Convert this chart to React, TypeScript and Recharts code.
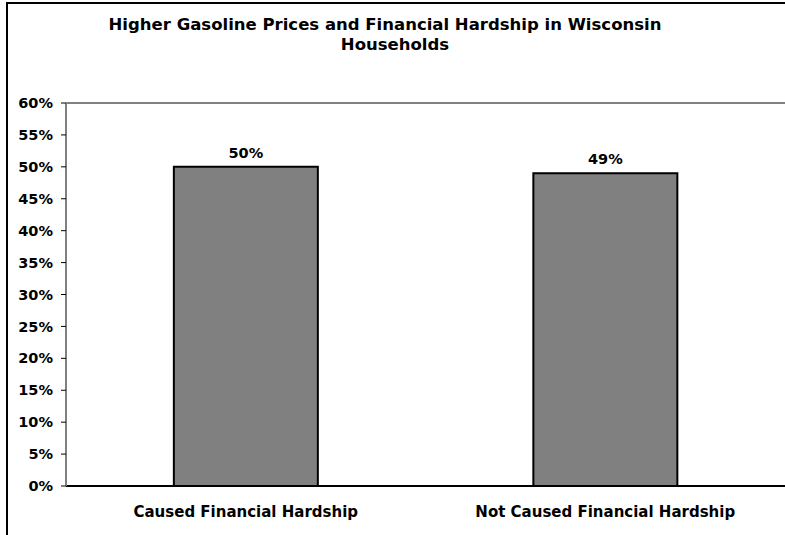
import React from "react";
import { BarChart, Bar, XAxis, YAxis, ReferenceLine, LabelList } from "recharts";

const categories = ["Caused Financial Hardship", "Not Caused Financial Hardship"];
const shares = [0.5, 0.49];
const yTicks = [0, 0.05, 0.1, 0.15, 0.2, 0.25, 0.3, 0.35, 0.4, 0.45, 0.5, 0.55, 0.6];

const data = categories.map((name, i) => ({ name, value: shares[i] }));

const font = "'DejaVu Sans', 'Liberation Sans', Arial, sans-serif";
const pct = (v: number) => `${Math.round(v * 100)}%`;
const tickStyle = { fontSize: 14.5, fontWeight: "bold", fill: "#000", fontFamily: font };
const catStyle = { fontSize: 15, fontWeight: "bold", fill: "#000", fontFamily: font };
const titleStyle = { position: "absolute" as const, left: 0, textAlign: "center" as const, fontSize: 16.5, fontWeight: "bold", lineHeight: "19.5px" };

export default function App() {
  return (
    <div style={{ position: "fixed", left: 0, top: 0, width: 785, height: 535, overflow: "hidden", background: "#fff", fontFamily: font }}>
      <div style={{ ...titleStyle, width: 770, top: 15 }}>
        Higher Gasoline Prices and Financial Hardship in Wisconsin
      </div>
      <div style={{ ...titleStyle, width: 790, top: 34.5 }}>
        Households
      </div>
      <div style={{ position: "absolute", left: 0, top: 0 }}>
        <BarChart width={785} height={535} data={data} margin={{ top: 103, right: 0, left: 0, bottom: 0 }} barCategoryGap="30%">
          <XAxis
            dataKey="name"
            height={49}
            axisLine={{ stroke: "#000", strokeWidth: 2 }}
            tickLine={false}
            tickSize={0}
            tickMargin={20}
            tick={catStyle}
          />
          <YAxis
            width={66}
            domain={[0, 0.6]}
            ticks={yTicks}
            interval={0}
            tickFormatter={pct}
            axisLine={{ stroke: "#808080", strokeWidth: 2 }}
            tickLine={{ stroke: "#000" }}
            tickSize={5}
            tickMargin={8}
            tick={tickStyle}
          />
          <ReferenceLine y={0.6} stroke="#808080" strokeWidth={2} />
          <Bar dataKey="value" fill="#808080" stroke="#000" strokeWidth={2} isAnimationActive={false}>
            <LabelList dataKey="value" position="top" offset={9} formatter={(v: any) => pct(Number(v))} style={tickStyle} />
          </Bar>
        </BarChart>
      </div>
      <div style={{ position: "absolute", left: 6, top: 2, width: 820, height: 580, borderLeft: "2px solid #000", borderTop: "2px solid #000", zIndex: 5, pointerEvents: "none" }} />
    </div>
  );
}
